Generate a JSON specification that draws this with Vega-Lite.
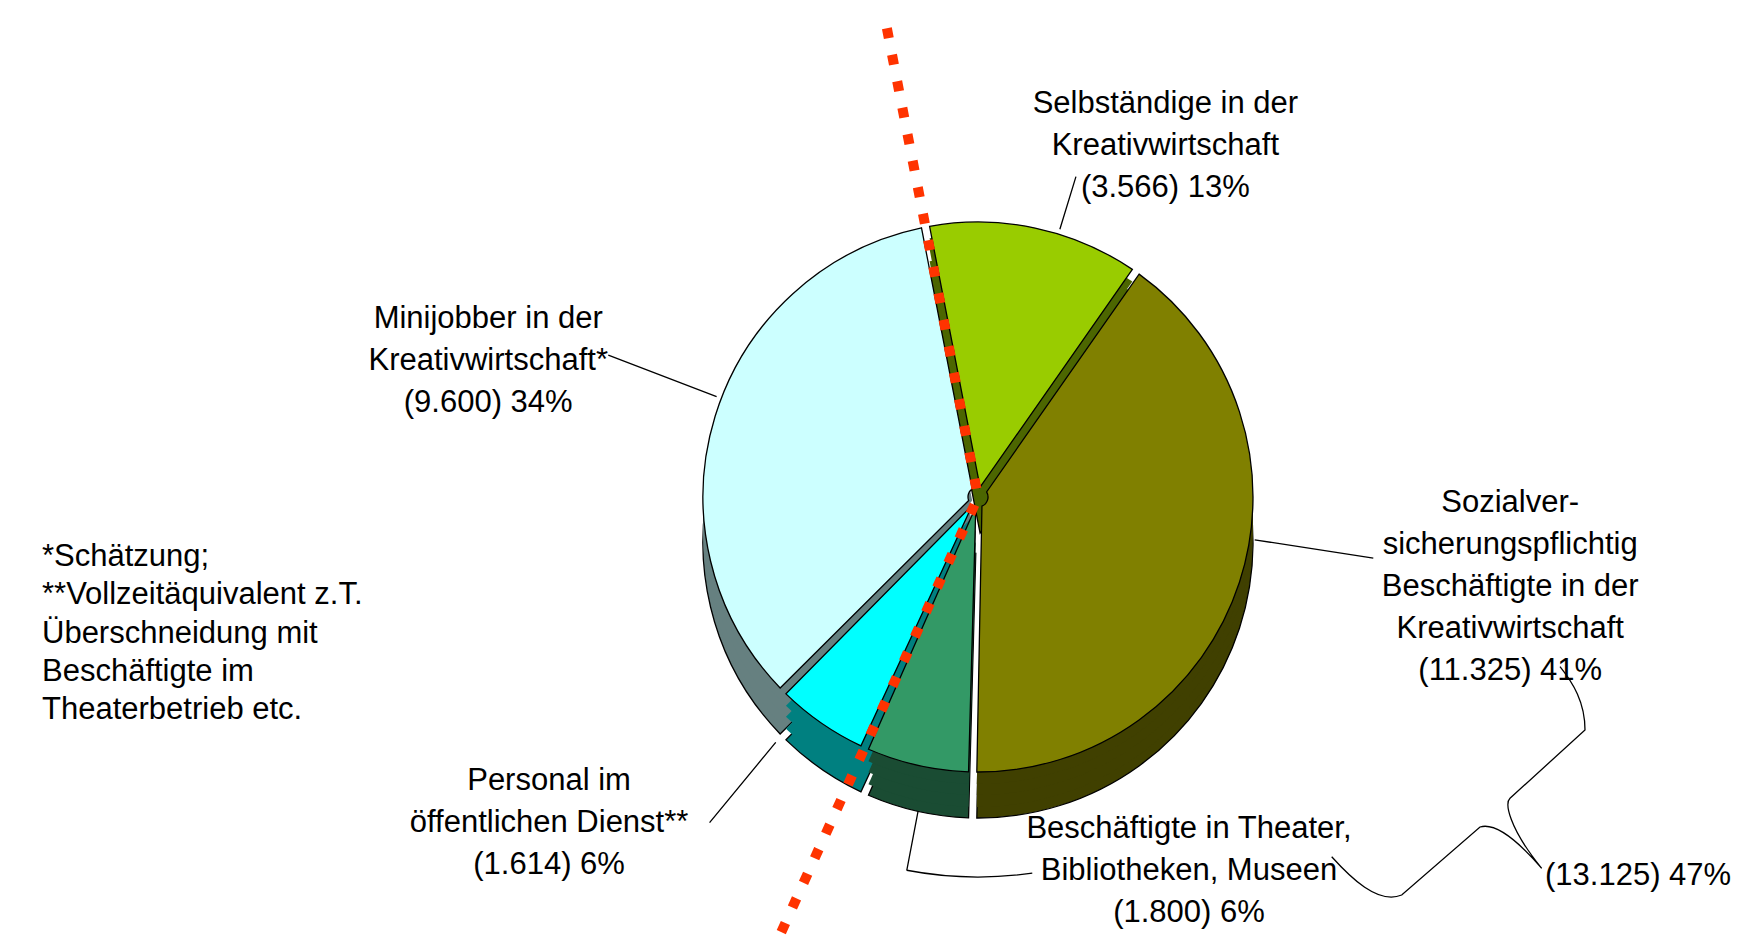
{
  "$schema": "https://vega.github.io/schema/vega-lite/v6.json",
  "width": 1544,
  "height": 876,
  "padding": {"left": 206, "top": 59, "right": 0, "bottom": 0},
  "autosize": {"type": "none"},
  "background": "white",
  "config": {
    "view": {"stroke": null},
    "text": {"font": "Liberation Sans", "fontSize": 31, "color": "black"}
  },
  "layer": [
    {
      "data": {
        "values": [
          {"nr": 1, "kategorie": "Selbständige in der Kreativwirtschaft", "anzahl": 3566, "anteil": "13%", "label": "Selbständige in der\nKreativwirtschaft\n(3.566) 13%"},
          {"nr": 2, "kategorie": "Sozialversicherungspflichtig Beschäftigte in der Kreativwirtschaft", "anzahl": 11325, "anteil": "41%", "label": "Sozialver-\nsicherungspflichtig\nBeschäftigte in der\nKreativwirtschaft\n(11.325) 41%"},
          {"nr": 3, "kategorie": "Beschäftigte in Theater, Bibliotheken, Museen", "anzahl": 1800, "anteil": "6%", "label": "Beschäftigte in Theater,\nBibliotheken, Museen\n(1.800) 6%"},
          {"nr": 4, "kategorie": "Personal im öffentlichen Dienst", "anzahl": 1614, "anteil": "6%", "label": "Personal im\nöffentlichen Dienst**\n(1.614) 6%"},
          {"nr": 5, "kategorie": "Minijobber in der Kreativwirtschaft", "anzahl": 9600, "anteil": "34%", "label": "Minijobber in der\nKreativwirtschaft*\n(9.600) 34%"}
        ]
      },
      "encoding": {
        "theta": {"field": "anzahl", "type": "quantitative", "stack": true, "scale": {"domain": [0, 27905], "range": [-0.19199, 6.0912]}},
        "order": {"field": "nr", "type": "quantitative"}
      },
      "layer": [
        {
          "mark": {"type": "arc", "radius": 275, "radius2": 10, "padAngle": 0.03, "yOffset": 46, "stroke": "black", "strokeWidth": 1.3},
          "encoding": {"fill": {"field": "kategorie", "type": "nominal", "legend": null, "scale": {"domain": ["Selbständige in der Kreativwirtschaft", "Sozialversicherungspflichtig Beschäftigte in der Kreativwirtschaft", "Beschäftigte in Theater, Bibliotheken, Museen", "Personal im öffentlichen Dienst", "Minijobber in der Kreativwirtschaft"], "range": ["#4C6600", "#404000", "#1A4C33", "#008080", "#668080"]}}}
        },
        {
          "mark": {"type": "arc", "radius": 275, "radius2": 10, "padAngle": 0.03, "yOffset": 35},
          "encoding": {"fill": {"field": "kategorie", "type": "nominal", "legend": null}}
        },
        {
          "mark": {"type": "arc", "radius": 275, "radius2": 10, "padAngle": 0.03, "yOffset": 23},
          "encoding": {"fill": {"field": "kategorie", "type": "nominal", "legend": null}}
        },
        {
          "mark": {"type": "arc", "radius": 275, "radius2": 10, "padAngle": 0.03, "yOffset": 12},
          "encoding": {"fill": {"field": "kategorie", "type": "nominal", "legend": null}}
        },
        {
          "mark": {"type": "arc", "radius": 275, "radius2": 10, "padAngle": 0.03, "stroke": "black", "strokeWidth": 1.3},
          "encoding": {"color": {"field": "kategorie", "type": "nominal", "legend": null, "scale": {"domain": ["Selbständige in der Kreativwirtschaft", "Sozialversicherungspflichtig Beschäftigte in der Kreativwirtschaft", "Beschäftigte in Theater, Bibliotheken, Museen", "Personal im öffentlichen Dienst", "Minijobber in der Kreativwirtschaft"], "range": ["#99CC00", "#808000", "#339966", "#00FFFF", "#CCFFFF"]}}}
        },
        {
          "mark": {"type": "arc", "radius": 335, "radius2": 280, "padAngle": 3.1416, "thetaOffset": 0.08724, "fillOpacity": 0, "stroke": "black", "strokeWidth": 1.3},
          "encoding": {"strokeOpacity": {"condition": {"test": "datum.nr === 1", "value": 1}, "value": 0}}
        },
        {
          "mark": {"type": "arc", "radius": 400, "radius2": 280, "padAngle": 3.1416, "thetaOffset": -0.16153, "fillOpacity": 0, "stroke": "black", "strokeWidth": 1.3},
          "encoding": {"strokeOpacity": {"condition": {"test": "datum.nr === 2", "value": 1}, "value": 0}}
        },
        {
          "mark": {"type": "arc", "radius": 380, "radius2": 320, "padAngle": 3.1416, "thetaOffset": -0.033445, "fillOpacity": 0, "stroke": "black", "strokeWidth": 1.3},
          "encoding": {"strokeOpacity": {"condition": {"test": "datum.nr === 3", "value": 1}, "value": 0}}
        },
        {
          "mark": {"type": "arc", "radius": 380, "radius2": 380, "padAngle": 0.0518, "thetaOffset": -0.199255, "fillOpacity": 0, "stroke": "black", "strokeWidth": 1.3},
          "encoding": {"strokeOpacity": {"condition": {"test": "datum.nr === 3", "value": 1}, "value": 0}}
        },
        {
          "mark": {"type": "arc", "radius": 422, "radius2": 318, "padAngle": 3.1416, "thetaOffset": 0.083105, "fillOpacity": 0, "stroke": "black", "strokeWidth": 1.3},
          "encoding": {"strokeOpacity": {"condition": {"test": "datum.nr === 4", "value": 1}, "value": 0}}
        },
        {
          "mark": {"type": "arc", "radius": 396, "radius2": 280, "padAngle": 3.1416, "thetaOffset": 0.06851, "fillOpacity": 0, "stroke": "black", "strokeWidth": 1.3},
          "encoding": {"strokeOpacity": {"condition": {"test": "datum.nr === 5", "value": 1}, "value": 0}}
        },
        {
          "mark": {"type": "text", "radius": 300, "dx": 125, "dy": -100, "lineBreak": "\n", "lineHeight": 42, "align": "center", "baseline": "middle"},
          "encoding": {"text": {"condition": {"test": "datum.nr === 1", "field": "label", "type": "nominal"}, "value": ""}}
        },
        {
          "mark": {"type": "text", "radius": 300, "dx": 247, "dy": -87, "lineBreak": "\n", "lineHeight": 42, "align": "center", "baseline": "middle"},
          "encoding": {"text": {"condition": {"test": "datum.nr === 2", "field": "label", "type": "nominal"}, "value": ""}}
        },
        {
          "mark": {"type": "text", "radius": 300, "dx": 277, "dy": 39, "lineBreak": "\n", "lineHeight": 42, "align": "center", "baseline": "middle"},
          "encoding": {"text": {"condition": {"test": "datum.nr === 3", "field": "label", "type": "nominal"}, "value": ""}}
        },
        {
          "mark": {"type": "text", "radius": 300, "dx": -258, "dy": 37, "lineBreak": "\n", "lineHeight": 42, "align": "center", "baseline": "middle"},
          "encoding": {"text": {"condition": {"test": "datum.nr === 4", "field": "label", "type": "nominal"}, "value": ""}}
        },
        {
          "mark": {"type": "text", "radius": 300, "dx": -203, "dy": -90, "lineBreak": "\n", "lineHeight": 42, "align": "center", "baseline": "middle"},
          "encoding": {"text": {"condition": {"test": "datum.nr === 5", "field": "label", "type": "nominal"}, "value": ""}}
        }
      ]
    },
    {
      "data": {"values": [{"grenze": 0, "bedeutung": "Beginn Selbständige"}, {"grenze": 16691, "bedeutung": "Ende Theater, Bibliotheken, Museen"}]},
      "mark": {"type": "arc", "radius": 477.5, "radius2": 0, "fillOpacity": 0, "stroke": "#FF3300", "strokeWidth": 10, "strokeDash": [10, 17]},
      "encoding": {
        "theta": {"field": "grenze", "type": "quantitative", "stack": null, "scale": {"domain": [0, 27905], "range": [-0.19199, 6.0912]}},
        "theta2": {"field": "grenze"}
      }
    },
    {
      "data": {"values": [{"gruppe": "Sozialversicherungspflichtig Beschäftigte + Beschäftigte in Theater, Bibliotheken, Museen", "anzahl": 13125, "label": "(13.125) 47%"}]},
      "layer": [
        {
          "mark": {"type": "point", "shape": "M5.82,1.697C5.95,1.86,6.07,2.05,6.07,2.33L5.32,3.013C5.27,3.06,5.30,3.30,5.637,3.713M3.537,3.597C3.72,3.80,4.0,4.08,4.237,3.98L5.02,3.30C5.15,3.26,5.35,3.38,5.637,3.713", "size": 40000, "filled": false, "stroke": "black", "strokeWidth": 1.3, "opacity": 1},
          "encoding": {}
        },
        {
          "mark": {"type": "text", "align": "left", "baseline": "middle", "dx": 567, "dy": 379},
          "encoding": {"text": {"field": "label", "type": "nominal"}}
        }
      ]
    },
    {
      "data": {"values": [{"fussnote": "*Schätzung;\n**Vollzeitäquivalent z.T.\nÜberschneidung mit\nBeschäftigte im\nTheaterbetrieb etc."}]},
      "mark": {"type": "text", "align": "left", "baseline": "middle", "dx": -936, "dy": 60, "lineBreak": "\n", "lineHeight": 38.3},
      "encoding": {"text": {"field": "fussnote", "type": "nominal"}}
    }
  ]
}
